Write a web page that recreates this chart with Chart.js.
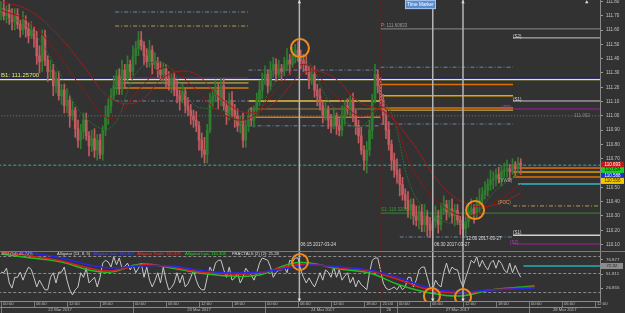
<!DOCTYPE html>
<html><head><meta charset="utf-8">
<script src="https://cdn.jsdelivr.net/npm/chart.js@4.4.0/dist/chart.umd.min.js"></script>
<style>
html,body{margin:0;padding:0;background:#323232;overflow:hidden;}
#wrap{position:relative;width:625px;height:313px;background:#323232;}
#c1{position:absolute;left:0;top:0;}
#c2{position:absolute;left:0;top:251px;}
</style></head><body>
<div id="wrap"><canvas id="c1" width="625" height="251"></canvas><canvas id="c2" width="625" height="62"></canvas></div>
<script>
// ---------- DATA (30-minute bars, USDJPY) ----------
const opens=[111.72,111.75,111.70,111.74,111.68,111.66,111.71,111.64,111.60,111.67,
111.61,111.56,111.60,111.54,111.42,111.38,111.56,111.39,111.31,111.32,
111.21,111.26,111.14,111.18,111.07,111.11,111.00,111.04,110.91,110.83,
110.89,110.97,110.86,110.79,110.84,110.76,110.83,110.73,110.90,111.00,
111.07,111.14,111.21,111.28,111.19,111.32,111.26,111.36,111.31,111.42,
111.47,111.53,111.49,111.42,111.38,111.46,111.36,111.38,111.32,111.29,
111.33,111.25,111.21,111.26,111.18,111.14,111.11,111.17,111.07,111.04,
111.00,110.97,110.93,110.83,110.76,110.73,110.90,111.11,111.14,111.18,
111.11,111.21,111.07,111.00,111.11,111.04,111.00,110.93,110.97,110.83,
110.93,111.00,110.97,111.04,111.11,111.18,111.25,111.29,111.21,111.32,
111.36,111.29,111.33,111.31,111.36,111.39,111.36,111.42,111.46,111.42,
111.39,111.36,111.32,111.25,111.29,111.18,111.14,111.07,111.00,111.04,
110.97,110.93,111.00,110.93,110.90,111.00,111.07,111.04,111.11,111.00,
110.93,110.86,110.76,110.69,110.76,110.90,111.11,111.29,111.21,111.11,
111.00,110.90,110.80,110.69,110.62,110.59,110.52,110.45,110.41,110.34,
110.38,110.30,110.27,110.33,110.24,110.30,110.24,110.20,110.26,110.30,
110.24,110.34,110.38,110.33,110.35,110.30,110.34,110.27,110.24,110.21,
110.26,110.33,110.35,110.31,110.38,110.41,110.45,110.48,110.52,110.55,
110.56,110.59,110.56,110.61,110.62,110.63,110.61,110.66,110.63,110.67];
const highs=[111.80,111.81,111.77,111.78,111.75,111.75,111.75,111.67,111.73,111.70,
111.65,111.66,111.62,111.59,111.49,111.60,111.60,111.42,111.39,111.36,
111.31,111.31,111.22,111.22,111.19,111.14,111.10,111.06,110.97,110.94,
111.02,111.02,110.89,110.90,110.91,110.87,110.87,110.93,111.07,111.12,
111.19,111.28,111.32,111.33,111.39,111.36,111.42,111.39,111.49,111.52,
111.59,111.59,111.52,111.47,111.53,111.49,111.44,111.41,111.38,111.37,
111.36,111.31,111.29,111.30,111.25,111.18,111.22,111.19,111.13,111.08,
111.04,111.03,110.96,110.88,110.85,110.94,111.16,111.19,111.25,111.22,
111.26,111.26,111.10,111.16,111.17,111.08,111.05,111.00,111.02,110.97,
111.04,111.06,111.07,111.16,111.25,111.30,111.35,111.32,111.38,111.41,
111.40,111.39,111.36,111.41,111.47,111.43,111.48,111.50,111.52,111.46,
111.43,111.42,111.35,111.34,111.35,111.22,111.19,111.10,111.10,111.07,
111.01,111.06,111.02,110.98,111.07,111.11,111.12,111.14,111.16,111.04,
110.97,110.92,110.79,110.82,110.97,111.15,111.36,111.32,111.27,111.15,
111.04,110.96,110.83,110.74,110.70,110.63,110.57,110.49,110.47,110.42,
110.42,110.37,110.37,110.38,110.38,110.34,110.29,110.29,110.37,110.34,
110.39,110.44,110.41,110.41,110.42,110.38,110.38,110.30,110.30,110.31,
110.38,110.42,110.38,110.43,110.49,110.50,110.54,110.56,110.62,110.61,
110.63,110.64,110.65,110.67,110.69,110.66,110.70,110.68,110.71,110.70];
const lows=[111.67,111.67,111.65,111.64,111.60,111.60,111.61,111.55,111.57,111.55,
111.51,111.54,111.48,111.36,111.30,111.31,111.35,111.24,111.26,111.14,
111.16,111.11,111.08,111.02,111.02,110.92,110.97,110.85,110.78,110.77,
110.84,110.83,110.72,110.75,110.71,110.69,110.70,110.69,110.86,110.94,
111.02,111.11,111.15,111.15,111.15,111.19,111.24,111.26,111.28,111.36,
111.42,111.46,111.36,111.34,111.34,111.29,111.33,111.27,111.25,111.23,
111.20,111.18,111.16,111.14,111.09,111.04,111.09,111.02,111.00,110.94,
110.92,110.89,110.76,110.71,110.67,110.67,110.88,111.06,111.10,111.05,
111.07,111.04,110.94,110.97,110.99,110.92,110.89,110.88,110.78,110.78,
110.89,110.94,110.92,111.01,111.07,111.12,111.22,111.16,111.18,111.27,
111.24,111.27,111.25,111.28,111.32,111.29,111.34,111.37,111.38,111.33,
111.31,111.29,111.19,111.22,111.13,111.07,111.04,110.95,110.97,110.91,
110.88,110.91,110.87,110.86,110.86,110.94,111.01,111.00,110.96,110.87,
110.81,110.73,110.62,110.60,110.72,110.84,111.09,111.16,111.07,110.94,
110.84,110.76,110.62,110.57,110.53,110.44,110.41,110.35,110.29,110.28,
110.24,110.23,110.21,110.19,110.19,110.16,110.15,110.15,110.22,110.18,
110.20,110.31,110.27,110.29,110.25,110.23,110.24,110.17,110.15,110.15,
110.22,110.30,110.25,110.28,110.33,110.35,110.42,110.44,110.48,110.49,
110.51,110.53,110.51,110.57,110.57,110.54,110.59,110.58,110.60,110.59];
const closes=[111.75,111.70,111.74,111.68,111.66,111.71,111.64,111.60,111.67,111.61,
111.56,111.60,111.54,111.42,111.38,111.56,111.39,111.31,111.32,111.21,
111.26,111.14,111.18,111.07,111.11,111.00,111.04,110.91,110.83,110.89,
110.97,110.86,110.79,110.84,110.76,110.83,110.73,110.90,111.00,111.07,
111.14,111.21,111.28,111.19,111.32,111.26,111.36,111.31,111.42,111.47,
111.53,111.49,111.42,111.38,111.46,111.36,111.38,111.32,111.29,111.33,
111.25,111.21,111.26,111.18,111.14,111.11,111.17,111.07,111.04,111.00,
110.97,110.93,110.83,110.76,110.73,110.90,111.11,111.14,111.18,111.11,
111.21,111.07,111.00,111.11,111.04,111.00,110.93,110.97,110.83,110.93,
111.00,110.97,111.04,111.11,111.18,111.25,111.29,111.21,111.32,111.36,
111.29,111.33,111.31,111.36,111.39,111.36,111.42,111.46,111.42,111.39,
111.36,111.32,111.25,111.29,111.18,111.14,111.07,111.00,111.04,110.97,
110.93,111.00,110.93,110.90,111.00,111.07,111.04,111.11,111.00,110.93,
110.86,110.76,110.69,110.76,110.90,111.11,111.29,111.21,111.11,111.00,
110.90,110.80,110.69,110.62,110.59,110.52,110.45,110.41,110.34,110.38,
110.30,110.27,110.33,110.24,110.30,110.24,110.20,110.26,110.30,110.24,
110.34,110.38,110.33,110.35,110.30,110.34,110.27,110.24,110.21,110.26,
110.33,110.35,110.31,110.38,110.41,110.45,110.48,110.52,110.55,110.56,
110.59,110.56,110.61,110.62,110.63,110.61,110.66,110.63,110.67,110.65];

// moving-average style overlays on price (sparse readings)
const maBars=[0,10,20,30,40,50,60,70,80,90,100,110,120,130,140,150,160,170,180,189];
const redSlow=[111.80,111.74,111.58,111.35,111.12,111.10,111.28,111.30,111.12,111.02,111.10,111.30,111.28,111.10,111.02,110.80,110.52,110.38,110.38,110.46];
const redMid=[111.74,111.66,111.45,111.18,110.98,111.18,111.34,111.20,111.02,110.98,111.18,111.36,111.18,111.00,111.05,110.62,110.38,110.30,110.40,110.52];
const greenMA=[111.70,111.62,111.34,111.00,110.92,111.32,111.36,111.08,111.04,110.95,111.24,111.40,111.08,110.92,111.08,110.46,110.27,110.27,110.48,110.60];

// oscillator (lower panel), one reading per bar
const oscValues=[55,54,62,36,27,46,46,55,41,54,
64,60,45,29,41,32,24,24,46,54,
36,55,55,64,41,24,15,24,29,54,
46,62,36,41,46,29,46,71,76,73,
64,82,68,80,62,65,71,59,68,54,
62,71,46,64,41,29,40,54,36,64,
41,24,28,36,54,36,50,29,35,46,
59,41,29,24,24,46,64,54,71,76,
76,59,46,64,41,45,54,36,46,62,
55,50,41,54,71,80,78,76,64,46,
54,59,59,64,54,76,73,80,80,59,
46,36,45,36,29,41,54,41,59,55,
46,64,46,59,41,48,54,36,46,29,
41,33,29,24,54,76,80,80,59,36,
27,24,26,29,24,32,24,29,46,46,
29,41,59,64,64,46,29,24,41,33,
29,54,71,54,64,60,59,41,29,46,
60,76,71,82,64,76,66,59,71,76,
62,76,70,59,54,71,54,67,55,46];
const algBars=[0,11,22,32,40,51,62,72,83,94,105,112,123,134,145,156,167,178,194];
const jaw=[94.0,88.8,80.0,67.7,62.4,65.9,65.9,58.8,53.6,55.3,62.4,67.7,64.1,58.8,44.8,27.2,20.1,23.6,27.2];
const teeth=[90.5,83.5,74.7,62.4,57.1,67.7,64.1,55.3,51.8,53.6,65.9,69.4,62.4,57.1,41.2,23.6,18.4,23.6,28.9];
const lips=[87.0,80.0,73.0,58.8,55.3,69.4,62.4,53.6,48.3,50.0,69.4,71.2,60.6,53.6,32.4,18.4,13.1,23.6,30.7];
const oscLevels=[82.6,52.7,19.2];
const oscTicks=[26.855,51.811,76.877];

// axes
const priceTicks=[110.1,110.2,110.3,110.4,110.5,110.6,110.7,110.8,110.9,111.0,111.1,111.2,111.3,111.4,111.5,111.6,111.7,111.8];
const timeTickBars=[0,12,24,36,48,60,72,84,96,108,120,132,138,144,156,168,180,192,204,216];
const timeTickLabels=['00:00','06:00','12:00','18:00','00:00','06:00','12:00','18:00','00:00','06:00','12:00','18:00','21:00','00:00','06:00','12:00','18:00','00:00','06:00','12:00'];
const dayBounds=[0,48,96,138,144,192];
const dayCenters=[21.5,72,117,141,166,205];
const dayLabels=['22 Mar 2017','23 Mar 2017','24 Mar 2017','26','27 Mar 2017','28 Mar 2017'];

// horizontal levels: price, from bar, to bar
const levelPrice=[111.265,111.255,111.726,111.628,111.265,111.23,111.195,111.104,111.00,
111.32,111.104,111.048,110.99,110.93,
111.34,111.22,111.14,111.055,111.04,110.943,
111.608,111.545,111.104,111.048,110.655,110.635,110.607,110.572,110.523,110.37,110.32,110.165,110.153,110.104];
const levelFrom=[-1,-1,41.5,41.5,41.5,41.5,41.5,41.5,-1,
90,90,90,90,90,
138,138,138,138,138,138,
138,186.2,186.2,186.2,-1,186.2,186.2,186.2,188,186.2,138,186.2,145,186.2];
const levelTo=[218,218,90,90,90,90,90,90,218,
138,138,138,138,138,
186.2,186.2,186.2,186.2,186.2,186.2,
218,218,218,218,218,218,218,218,218,218,218,218,186.2,218];
// level styles
const BG='#6d86a8';
const levelColor=['#23237a','#f0f050',BG,'#b8984e','#e07800','#d8c070','#d87a10',BG,'#7a7a7a',
BG,'#e8c040','#a08040','#d87a10',BG,
BG,'#e07000','#e8a800','#e07000','#e8c060',BG,
'#8a8a8a','#c8c8c8','#c8c8c8','#a020a0','#3aa8a8','#e07000','#e0a000','#e07000','#30b8c8','#b89a50','#3a8a2a','#d0d0d0',BG,'#a020a0'];
const DD=[4,2,1,2];
const levelDash=[[],[],DD,DD,[],[],[],DD,[1,2],
DD,[],[],[],DD,
DD,[],[],[],[],DD,
[],[],[],[],[3,2],[],[],[],[],DD,[],[],DD,[]];
const levelWidth=[1.5,1.5,1,1,1.5,1,1.5,1,1,
1,1.5,1,1.5,1,
1,1.5,1.5,1.5,1,1,
1,1,1,1,1,1.5,1.5,1.5,1.5,1,1,1.5,1,1];

const markerBars=[108.5,157,168];
const topMarkBars=[108.5,168,213];
const circleBars=[108.7,172.4], circlePrices=[111.474,110.341];
const oscCircleBars=[108.7,156.7,168], oscCircleVals=[73,13.1,11.3];

const priceTexts=['B1: 111.25700','P: 111.60833','(S2)','(S1)','(PP)','111.002','(VWP)','(POC)','S1: 110.3206','(S1)','(S2)','06:15 2017-03-24','06:30 2017-03-27','12:00 2017-03-27'];
const priceTextBars=[0,138.2,186.2,186.2,182.2,208.4,181.1,180.7,138.2,186.2,185.1,108.9,157.5,169.1];
const priceTextVals=[111.285,111.628,111.551,111.111,111.058,111.0,110.544,110.390,110.345,110.18,110.11,110.100,110.100,110.142];
const priceTextColors=['#e2e870','#9a9a9a','#dddddd','#dddddd','#b040c0','#8a8a8a','#a0b0a0','#c8a860','#3c9c3c','#dddddd','#b040c0','#dddddd','#dddddd','#dddddd'];

const boxTexts=['110.693','110.634','110.588','110.556'];
const boxVals=[110.66,110.62,110.58,110.545];
const boxFill=['#c01818','#20d020','#1830e0','#f0c800'];
const boxInk=['#ffffff','#003000','#ffffff','#302000'];

const oscTexts=['RSI (14) 46.74%','Alligator (13, 8, 5)','Alligator Jaw: 110.457','Alligator Teeth: 110.325','Alligator Lips: 110.305','FRACTALS (2) (2): 21.28'];
const oscTextBars=[0.4,20.4,33.5,49.5,66.9,84.0];
const oscTextColors=['#bbbbbb','#dddddd','#4a4aff','#ff3030','#30d030','#dddddd'];

// ---------- RENDER ----------
const FONT='"Liberation Sans", Arial, sans-serif';
Chart.defaults.font.family=FONT;
const XMIN=-1/2.75, XMAX=599/2.75;
const bars=closes.map((_,i)=>i);
const candleCol=closes.map((c,i)=>c>=opens[i]?'#2f7d2f':'#c25b60');

function txt(ctx,s,x,y,color,size,align){ctx.save();ctx.font=size+'px '+FONT;ctx.fillStyle=color;ctx.textAlign=align||'left';ctx.textBaseline='middle';ctx.fillText(s,x,y);ctx.restore();}
function zeroPad(s){s.paddingTop=0;s.paddingBottom=0;s.paddingLeft=0;s.paddingRight=0;}

const lineDs=(data,color,width,dash,order)=>({type:'line',data,borderColor:color,borderWidth:width,borderDash:dash||[],pointRadius:0,tension:0,order:order,fill:false});

const ds1=[];
levelPrice.forEach((p,k)=>ds1.push(lineDs([{x:levelFrom[k],y:p},{x:levelTo[k],y:p}],levelColor[k],levelWidth[k],levelDash[k],10)));
ds1.push({type:'bar',data:bars.map(i=>({x:i,y:[lows[i],highs[i]]})),backgroundColor:candleCol,barThickness:1,grouped:false,order:6,borderWidth:0});
ds1.push({type:'bar',data:bars.map(i=>({x:i,y:[opens[i],closes[i]]})),backgroundColor:candleCol,barThickness:2,grouped:false,order:5,borderWidth:0});
ds1.push(Object.assign(lineDs(maBars.map((b,k)=>({x:b,y:redSlow[k]})),'#a01c1c',1,[],4),{tension:0.4}));
ds1.push(Object.assign(lineDs(maBars.map((b,k)=>({x:b,y:redMid[k]})),'#8a1818',1,[],4),{tension:0.4}));
ds1.push(Object.assign(lineDs(maBars.map((b,k)=>({x:b,y:greenMA[k]})),'#2c6a2c',1,[2,1],4),{tension:0.4}));
markerBars.forEach(b=>ds1.push(lineDs([{x:b,y:109},{x:b,y:113}],'#b4b4b4',1.5,[],3)));
ds1.push(lineDs([{x:138,y:109},{x:138,y:113}],'#7a1a1a',1,[1,2],3));
ds1.push({type:'scatter',data:circleBars.map((b,k)=>({x:b,y:circlePrices[k]})),pointRadius:9,pointBorderWidth:2,pointBorderColor:'#f08c1e',pointBackgroundColor:'rgba(0,0,0,0)',order:1,showLine:false});
ds1.push({type:'scatter',data:topMarkBars.map(b=>({x:b,y:111.795})),pointStyle:'triangle',pointRadius:2,pointBorderWidth:0,pointBackgroundColor:'#e0e0e0',order:1,showLine:false});

const annot1={id:'annot1',
 afterDatasetsDraw(chart){
  const ctx=chart.ctx,xs=chart.scales.x,ys=chart.scales.y;
  priceTexts.forEach((s,k)=>txt(ctx,s,xs.getPixelForValue(priceTextBars[k]),ys.getPixelForValue(priceTextVals[k]),priceTextColors[k],k===0?6:4.5));
  const tx=xs.getPixelForValue(146.9),ty=ys.getPixelForValue(111.778);
  ctx.save();ctx.fillStyle='#5a8ad0';ctx.fillRect(tx,ty-4.5,31,9);ctx.strokeStyle='#a8c4ec';ctx.lineWidth=1;ctx.strokeRect(tx+0.5,ty-4,30,8);ctx.restore();
  txt(ctx,'Time Marker',tx+15.5,ty,'#ffffff',4.8,'center');
 },
 afterDraw(chart){
  const ctx=chart.ctx,ys=chart.scales.y;
  boxTexts.forEach((s,k)=>{const y=ys.getPixelForValue(boxVals[k]);ctx.save();ctx.fillStyle=boxFill[k];ctx.fillRect(601,y-3,23,6);ctx.restore();txt(ctx,s,612.5,y,boxInk[k],4.5,'center');});
 }};

new Chart(document.getElementById('c1'),{
 type:'bar',
 data:{datasets:ds1},
 options:{responsive:false,animation:false,devicePixelRatio:1,events:[],
  layout:{padding:0,autoPadding:false},
  plugins:{legend:{display:false},tooltip:{enabled:false}},
  scales:{
   x:{type:'linear',min:XMIN,max:XMAX,display:false,offset:false,grid:{offset:false}},
   y:{type:'linear',position:'right',min:110.055,max:111.81,
      afterBuildTicks:s=>{s.ticks=priceTicks.map(v=>({value:v}));},
      afterFit:s=>{s.width=25;zeroPad(s);},
      ticks:{autoSkip:false,color:'#c4c4c4',font:{size:4.6},padding:3,callback:v=>v.toFixed(2)},
      grid:{drawOnChartArea:false,color:'#9a9a9a',tickLength:3},
      border:{display:true,color:'#8a8a8a'}}
  }},
 plugins:[annot1]
});

// ---------- lower panel ----------
const ds2=[];
oscLevels.forEach(v=>ds2.push(lineDs([{x:-1,y:v},{x:218,y:v}],'#8c8c8c',1,[3,2],10)));
ds2.push(lineDs([{x:190,y:65.9},{x:218,y:65.9}],'#20b0b8',1.5,[],9));
ds2.push(lineDs(bars.map(i=>({x:i,y:oscValues[i]})),'#c8c8c8',1,[],5));
ds2.push(Object.assign(lineDs(algBars.map((b,k)=>({x:b,y:jaw[k]})),'#2828e8',1.5,[],4),{tension:0.4}));
ds2.push(Object.assign(lineDs(algBars.map((b,k)=>({x:b,y:teeth[k]})),'#d82020',1.5,[],4),{tension:0.4}));
ds2.push(Object.assign(lineDs(algBars.map((b,k)=>({x:b,y:lips[k]})),'#20c020',1.5,[],4),{tension:0.4}));
markerBars.forEach(b=>ds2.push(lineDs([{x:b,y:-10},{x:b,y:120}],'#b4b4b4',1.5,[],3)));
ds2.push(lineDs([{x:138,y:-10},{x:138,y:120}],'#7a1a1a',1,[1,2],3));
ds2.push({type:'scatter',data:oscCircleBars.map((b,k)=>({x:b,y:oscCircleVals[k]})),pointRadius:8,pointBorderWidth:2,pointBorderColor:'#f08c1e',pointBackgroundColor:'rgba(0,0,0,0)',order:1,showLine:false});
ds2.push({type:'scatter',data:markerBars.map(b=>({x:b,y:7})),pointStyle:'triangle',rotation:180,pointRadius:2,pointBorderWidth:0,pointBackgroundColor:'#e0e0e0',order:0,showLine:false});

const annot2={id:'annot2',
 afterDatasetsDraw(chart){
  const ctx=chart.ctx,xs=chart.scales.x,ys=chart.scales.y;
  ctx.save();ctx.strokeStyle='#7a7a7a';ctx.lineWidth=1;ctx.beginPath();ctx.moveTo(0,0.5);ctx.lineTo(625,0.5);ctx.stroke();ctx.restore();
  oscTexts.forEach((s,k)=>txt(ctx,s,xs.getPixelForValue(oscTextBars[k]),ys.getPixelForValue(86.5),oscTextColors[k],4.2));
  const y=ys.getPixelForValue(65.9);ctx.save();ctx.fillStyle='#8c8c8c';ctx.fillRect(601,y-3,22,6);ctx.restore();txt(ctx,'72.32',612,y,'#202020',4.4,'center');
 }};

new Chart(document.getElementById('c2'),{
 type:'line',
 data:{datasets:ds2},
 options:{responsive:false,animation:false,devicePixelRatio:1,events:[],
  layout:{padding:0,autoPadding:false},
  plugins:{legend:{display:false},tooltip:{enabled:false}},
  scales:{
   x:{type:'linear',position:'bottom',weight:0,min:XMIN,max:XMAX,offset:false,
      afterBuildTicks:s=>{s.ticks=timeTickBars.map(v=>({value:v}));},
      afterFit:s=>{s.height=6;zeroPad(s);},
      ticks:{autoSkip:false,maxRotation:0,minRotation:0,align:'start',labelOffset:2,padding:-5.6,color:'#bdbdbd',font:{size:4.2},
             callback:(v,i)=>timeTickLabels[i]},
      grid:{drawOnChartArea:false,drawTicks:true,tickLength:6,color:'#7a7a7a'},
      border:{display:true,color:'#8a8a8a'}},
   x2:{type:'linear',position:'bottom',weight:1,min:XMIN,max:XMAX,offset:false,
      afterBuildTicks:s=>{s.ticks=dayBounds.concat(dayCenters).sort((a,b)=>a-b).map(v=>({value:v}));},
      afterFit:s=>{s.height=6;zeroPad(s);},
      ticks:{autoSkip:false,maxRotation:0,minRotation:0,padding:-5.6,color:'#bdbdbd',font:{size:4.2},
             callback:(v)=>{const k=dayCenters.indexOf(v);return k>=0?dayLabels[k]:'';}},
      grid:{drawOnChartArea:false,drawTicks:true,tickLength:6,color:(c)=>(c.tick&&dayCenters.indexOf(c.tick.value)>=0)?'rgba(0,0,0,0)':'#7a7a7a'},
      border:{display:true,color:'#8a8a8a'}},
   y:{type:'linear',position:'right',min:4.3,max:92.3,
      afterBuildTicks:s=>{s.ticks=oscTicks.map(v=>({value:v}));},
      afterFit:s=>{s.width=25;zeroPad(s);},
      ticks:{autoSkip:false,color:'#c4c4c4',font:{size:4.4},padding:3,callback:v=>v.toFixed(3)},
      grid:{drawOnChartArea:false,color:'#9a9a9a',tickLength:3},
      border:{display:true,color:'#8a8a8a'}}
  }},
 plugins:[annot2]
});
</script></body></html>
